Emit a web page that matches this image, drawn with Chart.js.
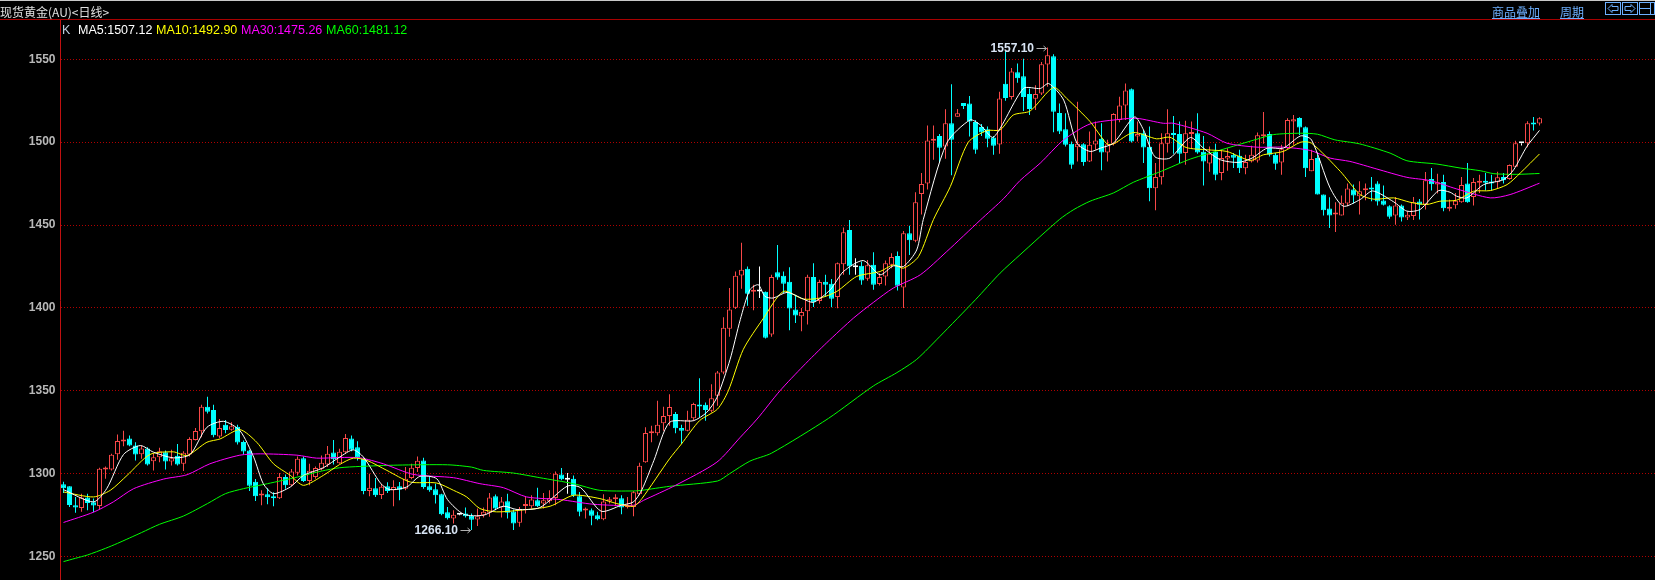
<!DOCTYPE html>
<html><head><meta charset="utf-8">
<script src="https://cdn.jsdelivr.net/npm/chart.js@4"></script>
<style>
html,body{margin:0;padding:0;background:#000;width:1655px;height:580px;overflow:hidden}
#wrap{position:relative;width:1655px;height:580px}
canvas{position:absolute;left:0;top:0}
.t{position:absolute;white-space:nowrap;line-height:14px}
.cjk{font:12px "Noto Sans CJK SC",sans-serif}
.leg{font:12.5px "Liberation Sans",sans-serif;top:23px}
.link{color:#6db0ff;text-decoration:underline;top:3px}
#topline{position:absolute;left:0;top:0;width:1655px;height:1px;background:#c8c8c8}
#redline{position:absolute;left:0;top:19px;width:1655px;height:1px;background:#a80000}
svg{position:absolute;top:2px}
</style></head><body>
<div id="wrap">
<canvas id="c" width="1655" height="580"></canvas>
<div id="topline"></div><div id="redline"></div>
<div class="t cjk" style="left:0;top:3px;color:#e0e0e0">现货黄金(AU)&lt;日线&gt;</div>
<div class="t leg" style="left:62px;color:#c0d0e0">K</div>
<div class="t leg" style="left:78px;color:#ffffff">MA5:1507.12</div>
<div class="t leg" style="left:156px;color:#ffff00">MA10:1492.90</div>
<div class="t leg" style="left:241px;color:#ff00ff">MA30:1475.26</div>
<div class="t leg" style="left:326px;color:#00ff00">MA60:1481.12</div>
<div class="t cjk link" style="left:1492px">商品叠加</div>
<div class="t cjk link" style="left:1560px">周期</div>
<svg style="left:1605px" width="17" height="14"><rect x=".5" y=".5" width="15" height="12" fill="none" stroke="#6db0ff"/><path d="M3 6.5l4-4v2h6v4H7v2z" fill="none" stroke="#6db0ff"/></svg>
<svg style="left:1622px" width="17" height="14"><rect x=".5" y=".5" width="15" height="12" fill="none" stroke="#6db0ff"/><path d="M13 6.5l-4-4v2H3v4h6v2z" fill="none" stroke="#6db0ff"/></svg>
<svg style="left:1639px" width="16" height="14"><rect x=".5" y=".5" width="15" height="12" fill="none" stroke="#6db0ff"/><path d="M1 6.5h10M11.5 1v12" fill="none" stroke="#6db0ff"/></svg>
</div>
<script>
const yTicks=[1250,1300,1350,1400,1450,1500,1550];
const open=[
1293.6,1292.4,1281,1279.4,1285.6,1282.8,1280.6,1302.6,1302.6,1311.8,
1319.5,1321.2,1317,1311.8,1315.2,1307.6,1310,1313,1307.4,1310.8,
1306,1311.6,1320.4,1325.6,1340.4,1338.4,1322.4,1329.6,1326.6,1328.4,
1319.2,1314,1295.2,1286.8,1287.6,1286.4,1285.2,1298,1293,1300.6,
1309.4,1295.6,1298,1303,1305.6,1312.8,1306.4,1313,1321.2,1316,
1309,1289.6,1291.2,1287.2,1292.4,1290,1292.4,1291,1297.4,1303.4,
1308,1292.4,1290.6,1287.6,1276.8,1273,1275.2,1276,1274.6,1272.4,
1275,1276.4,1286.4,1279.6,1283.4,1277.2,1270.4,1280.6,1280.4,1284,
1282,1283.4,1285.4,1299.6,1296.4,1297,1286.4,1277.8,1278,1275,
1272.6,1283.2,1284.6,1285.2,1279.8,1280,1287.6,1307,1324.4,1324.4,
1330.4,1334.8,1336,1327.6,1326,1333.4,1340.8,1341.6,1338,1347,
1361,1387.4,1400.2,1419.6,1423.6,1409.8,1410,1409.8,1384,1421.6,
1419.4,1415.8,1399,1395,1398,1418.6,1404.2,1415.8,1414.6,1406.6,
1426.4,1447,1424.6,1425.4,1417.6,1426,1414.4,1419,1426,1431.4,
1412.4,1445,1440.6,1468.8,1475,1500.8,1503.8,1497.4,1511.4,1515.4,
1523.6,1523.4,1512.2,1509.2,1507.8,1502.8,1498.6,1535.2,1527.2,1542.2,
1539.8,1529,1526.2,1529.4,1546.8,1551.8,1517.6,1507.8,1499,1497,
1498.8,1488.4,1498.6,1502,1493.8,1499,1513.4,1522.2,1532,1503.4,
1505.4,1497.2,1472.2,1478.8,1499,1505.4,1505,1493.4,1505,1505.4,
1494.2,1487.2,1494.2,1481.4,1490.2,1492.4,1491.8,1484.2,1488.4,1489,
1503.6,1505,1492.4,1487.8,1496.4,1512.4,1514.6,1509,1482.4,1490.4,
1468.4,1460,1456.4,1455.8,1463,1471.4,1467.4,1471,1472.4,1475,
1464.8,1461.4,1455.8,1461.8,1454.6,1455.4,1464.2,1462.4,1477.8,1474.4,
1476,1459.8,1462,1463.8,1475,1467,1475.6,1476,1476,1475.8,
1479,1477.8,1485.2,1499.4,1499.4,1510.8,1511.2];
const close=[
1291.2,1281.2,1279.6,1285.6,1282.4,1280.8,1303,1303.2,1311.4,1319.8,
1320.3,1317,1311.6,1315.2,1305.6,1310,1313.6,1307.4,1309.4,1305.6,
1312.6,1321,1325.8,1340.4,1337.4,1323.2,1327.6,1326.4,1328.6,1318.8,
1313.4,1292.8,1286.4,1288,1285.8,1285.2,1298,1293,1301.4,1309,
1295.6,1301.8,1303.4,1306.6,1312,1308.8,1313.2,1321.6,1314.4,1309.6,
1289.6,1291.6,1287,1292.2,1289.6,1292,1290.4,1297,1303.6,1307.8,
1292,1290,1287,1275.6,1273.2,1275.2,1275.2,1274.4,1272.2,1274.4,
1277,1285.6,1279,1283.2,1276.4,1270,1278.8,1280.8,1284.4,1280.4,
1284,1285.4,1300,1296.6,1296.4,1287,1277,1278.2,1274.6,1272.6,
1283.2,1284.6,1285,1279.6,1280.2,1288.8,1304.8,1324.6,1324.8,1329.6,
1334.8,1340.2,1327.4,1326,1332.6,1342,1340.6,1338.4,1345.6,1361,
1388,1399,1419.4,1423,1408.6,1410,1410,1382,1418.6,1418.4,
1414.6,1399.6,1395.4,1397.6,1418.8,1403.4,1415.6,1414,1405.6,1427,
1445.6,1425,1424.6,1416.6,1425.8,1414,1418.6,1427,1430.8,1413.4,
1445,1440.8,1463.8,1474.8,1501,1501.2,1496.6,1511.4,1501.4,1517.4,
1521.8,1512.4,1495.4,1505.8,1502,1497.8,1526.4,1526.6,1542.6,1538.6,
1527.2,1520,1529,1547,1552.4,1518.4,1506.4,1498.4,1486.4,1499,
1488,1498.4,1501,1493.8,1498.8,1517,1522.2,1531.2,1500.4,1505,
1496.8,1472.2,1479,1499.4,1505.4,1504.4,1493,1505.4,1505.4,1493.8,
1488.4,1493,1480.4,1490.4,1491.6,1490.6,1484.2,1488,1492.4,1504.2,
1504,1492.4,1487,1495.8,1513.4,1513.8,1508.8,1484.2,1489.8,1468.4,
1459,1455.8,1456.8,1463.4,1472,1467.8,1470.4,1471.4,1471.4,1464.2,
1462.2,1455,1461.8,1454.6,1456.2,1463.8,1462.2,1477,1474.6,1475.8,
1460.2,1461,1464.6,1474.2,1463.8,1476,1476,1475.6,1475,1478.8,
1477,1486.2,1499.4,1499.4,1511.4,1510.6,1514.4];
const high=[
1295.2,1292.4,1286,1288,1288,1285,1303.6,1304.4,1312,1323.6,
1326,1323,1319,1317,1316,1312,1315.6,1314,1314.4,1318,
1313.6,1322,1327.6,1341.6,1346.4,1341.6,1333,1332.4,1331,1329.6,
1320,1314.4,1296.8,1290,1291.2,1288.8,1300.4,1299.6,1302.8,1310.4,
1310.4,1306,1304.4,1311,1316.8,1320.4,1315,1324,1323,1319.6,
1310,1300,1297.4,1294,1294.8,1296,1295,1304,1306,1310.4,
1309.6,1298,1294,1288,1280,1278,1275.6,1279.6,1276,1279,
1279.6,1288.4,1287.4,1286,1288,1278.4,1280,1286,1287,1291.6,
1288.4,1290,1301.4,1303.4,1300.4,1299,1289,1279.6,1279,1277,
1287.6,1286,1287.6,1287,1286,1289.6,1306.6,1328,1329,1344,
1340.4,1348,1337.2,1329.6,1338,1342.8,1357.6,1343,1354,1362,
1394.4,1412,1422,1439.4,1425,1414,1425,1410,1420,1438,
1422,1424.6,1408,1400,1420,1427,1417,1420,1417.4,1427.4,
1448.6,1453,1430,1428,1429,1433.6,1421,1428.6,1433,1434,
1446.4,1449.6,1469.8,1481.4,1510,1510,1505,1519.8,1535,1520,
1523.6,1527.8,1513.4,1511,1509.4,1503.8,1530.4,1555.4,1544.8,1547.4,
1550.4,1532.4,1534.4,1548.4,1557.1,1553,1523.4,1517.4,1500.4,1524.4,
1499.4,1506.4,1512.4,1511.4,1501.4,1517.4,1527.4,1535.4,1532.4,1512.4,
1507.4,1509.4,1487.4,1505.4,1519.8,1515.8,1512.4,1513,1512.4,1517.4,
1503.8,1497.4,1499,1495.4,1496.4,1493.4,1495.4,1492.4,1497.8,1505.8,
1518.2,1506.4,1493.4,1498.4,1514.4,1516.4,1515,1509.4,1495.4,1492.4,
1468.4,1466.8,1463.8,1467.8,1475,1474.4,1476.4,1475,1479,1476.4,
1473.8,1462,1467,1462.4,1458.2,1467,1465.8,1482,1484.4,1481,
1480.4,1465.4,1469.4,1479,1487.4,1478.4,1480.4,1481.4,1480.4,1482.2,
1481.4,1486.6,1500.8,1499.4,1512.6,1515.2,1515];
const low=[
1288.4,1280,1276.4,1277,1278,1276.8,1278.4,1297,1302,1308.4,
1316.6,1316.6,1308,1309,1305,1302,1307,1302.6,1305,1305,
1301.6,1310.4,1320,1322,1336.4,1322,1321.6,1324.4,1326,1317.6,
1311.6,1289.6,1283.6,1281,1281.6,1280.4,1284.8,1291,1292.4,1299,
1295,1293,1297,1302,1304,1305.6,1306,1312,1313.6,1308,
1287.6,1286.4,1286,1284.8,1288.4,1280.4,1284,1290,1296.6,1301,
1291,1289.2,1282,1275,1272.4,1270,1275,1273.6,1266.1,1268.4,
1273.6,1274,1278,1273.6,1273,1266,1268,1276,1279,1280,
1279,1282,1281,1296,1288,1286,1274.4,1273,1269,1272,
1272,1282,1280.4,1275.6,1279,1274.4,1287,1306.6,1319,1323,
1326,1329,1324.4,1318,1325.6,1332,1334,1332,1337,1341,
1360,1382.6,1399.4,1411.6,1401.4,1398.6,1406,1381.6,1382.6,1417,
1409,1386.6,1391,1386,1390,1400.6,1402.6,1406.6,1400.4,1399.8,
1420,1420,1420,1414,1416.4,1411,1413.6,1413.6,1424,1410.6,
1400,1432,1439.6,1456.4,1471.4,1489.4,1488,1490,1480,1515.4,
1520,1503.4,1493,1503.8,1497,1492.4,1493,1525,1525.8,1535.8,
1518.8,1516.4,1519.4,1528.4,1533.4,1506,1505,1497.4,1484,1488.4,
1485.8,1488,1495.4,1483,1488.4,1498,1512,1513.4,1499.8,1500.4,
1487.4,1464.4,1459,1474.4,1493.8,1493,1487.4,1486.4,1496.4,1493,
1473.8,1482.2,1477,1477,1482.8,1484.4,1481.4,1480.6,1487.8,1487.8,
1499,1491.4,1483.4,1480.4,1495.8,1498.4,1504.4,1479,1482.4,1468.4,
1455.8,1448.2,1445.8,1455.8,1461.4,1463,1456.4,1465,1464.4,1461.8,
1461.8,1453.8,1450.2,1452.2,1453,1453,1453.4,1459.4,1470.8,1469,
1458.4,1458.4,1459.8,1463.4,1463.4,1461.8,1469.4,1470.8,1470.8,1472.4,
1475,1477.4,1485,1498,1497,1507,1510];

const ma60X=[0,2,4,7,9,13,16,20,24,27,30,34,39,43,46,49.4,55.6,64,68,70,75,79.4,85,89.4,95,96.4,101,109,111,114.4,118,127.5,135,138.9,142.2,146,152,156.1,159.4,166,168.4,171.1,175,178.3,183,187.8,193.9,198.9,201.7,206.2,209,211.9,216,221.1,223.9,228.9,232.8,236.1,238.4,242.2,246];
const ma60Y=[1247,1249,1251,1255,1258,1264.5,1269.5,1274.5,1282,1288,1291,1294,1298,1301.6,1303.6,1304.4,1305.2,1305.4,1304,1302,1300.4,1297.6,1294,1290,1289.6,1290,1292.4,1295.6,1300,1307.6,1312.4,1333.4,1353,1361,1369,1382.6,1405,1421,1432,1453.4,1459.4,1464.4,1469.4,1475.8,1482.5,1489.8,1496.4,1501.8,1504.6,1505.4,1504.8,1501.4,1499,1493.4,1488.8,1486.8,1484.4,1482.8,1481,1480.6,1481.12];
const ma30X=[0,5,8.3,11.7,16.7,20.6,24.4,29.4,32.8,38.9,42.2,46.1,49.4,53.3,58.3,65,69.4,73.3,77.2,82.8,88.3,95,96.7,102,108.9,112.8,115.6,119.4,123.3,127.2,131.7,135,138.3,142.8,147.2,152.8,156.7,159.4,162.8,166.7,171.1,176.1,178.9,183.3,185,190.6,193.9,198.9,203.3,207.8,211.1,214.4,218.9,223.9,227.8,232.2,237.8,241.1,246];
const ma30Y=[1270.6,1276.8,1283,1291,1296.8,1299.4,1306,1311.2,1312,1311.2,1309.4,1309.8,1309.6,1306,1299.6,1297.6,1294,1291.6,1286,1284.4,1281.6,1281,1284,1293,1307,1322,1333,1350,1365,1379,1394,1403.4,1412,1420,1434,1453,1466,1476.8,1487.4,1501.4,1511,1513.8,1514.4,1511.4,1511.4,1505.4,1499.4,1497,1497,1495,1490.4,1488.4,1483.8,1478.8,1476.8,1471.8,1466.4,1468.4,1475.26];
const ma10X=[0,5,7.8,10.6,14.4,18.3,20.6,23.9,26.1,29.4,32.2,35,37.8,40,43.3,46,48.3,50.6,53.9,57.8,62.2,65,67.2,69.4,72.2,76.1,81.1,85,89.4,92.2,95,96.4,101,103,106,109,110.8,113.3,116.7,120,123.3,126.1,128.9,132.2,136.1,138.3,140,142.5,145,147.8,150.8,153.9,156.1,158.3,161.1,165,167.2,171.1,173.9,175,178.3,182.2,184.4,187.1,190.6,193.9,197.8,200,203.3,206.2,208,212.8,216.1,218.4,221.7,224.4,227.2,229.4,232.2,235,237.8,240.6,242.8,246];
const ma10Y=[1289,1286,1290,1299,1311.6,1313.2,1311,1319,1321,1326.6,1319,1306,1299,1293,1299,1305.5,1309.4,1308,1302,1295,1294.4,1290,1286,1279,1277,1278,1280.4,1287,1285,1282,1280.4,1285,1309,1318,1332,1339,1350,1375,1394,1410,1405.4,1406,1410,1419,1422,1426,1424,1431,1453.4,1473.2,1500,1507,1507.4,1516.4,1518.8,1533,1526.4,1512.4,1499,1499,1505.8,1502,1503,1496.8,1495.4,1494.4,1489,1492.4,1494.4,1500,1499.4,1482.4,1468.4,1465.6,1466.4,1463.8,1462.4,1464.4,1465,1470.4,1470.8,1474.4,1481.4,1492.9];
const ma5X=[0,5,7.2,10,12.8,15,18.3,21.1,23.9,26.7,29.4,31.7,33.3,35,37.8,40,43.3,46,48.3,50,52.9,54.4,57.2,59.4,62.2,64,66.7,70,73.3,75.6,79.4,84,86.2,89.6,93,95,96.4,98.4,101,105,107.2,108.9,111.1,112.8,114.4,115.8,116.9,118.3,120.6,123.3,125,127.8,130,133.3,136.1,138.3,140,142.2,143.3,147.2,151.1,152.8,155,160,162.8,164.2,166.7,168.9,171.1,172.8,175,178.5,180,181.9,184.4,187.8,190,192.8,195.8,198.1,200.6,203.3,206.2,208,211.1,213.3,216.1,218.2,221.7,223.9,226.1,229.2,231.1,232.2,233.9,236.7,240,241.7,243.9,246];
const ma5Y=[1290.4,1283,1291,1311.6,1317,1313,1309.6,1311.6,1328,1331.6,1326,1310,1294,1288,1292,1299,1303.6,1310,1314.4,1310,1294,1290.4,1292,1298.4,1297,1284.4,1275.6,1275,1280.4,1278.4,1279.6,1292.6,1291.6,1277.4,1281,1283,1290.4,1308,1331,1332,1337,1346,1369,1393,1411,1414,1407,1406,1409.4,1405.4,1403.4,1411,1422,1428.6,1420,1425.4,1425,1435,1453.4,1499.4,1513.4,1510.4,1503,1532.4,1532.4,1535.4,1525.4,1499.4,1494.4,1496.4,1499.4,1515.2,1507.4,1491.2,1490.4,1502.8,1496.4,1489.4,1487.8,1490.4,1496.4,1496.4,1503.8,1501.4,1472.4,1461.4,1465.4,1470.6,1464,1458.4,1459.4,1470.8,1469.8,1467.4,1466.4,1474.4,1477.4,1483.4,1497.4,1507.12];

const markHigh={index:164,value:1557.1,label:"1557.10"};
const markLow={index:68,value:1266.1,label:"1266.10"};

const RED="#f84848",CYAN="#00ffff",WHITE="#ffffff";
const colorOf=i=>close[i]===open[i]?WHITE:(close[i]>open[i]?RED:CYAN);
const pts=(X,Y)=>X.map((x,k)=>({x,y:Y[k]}));
const idx=open.map((_,i)=>i);
const line=(label,X,Y,color,order)=>({type:"line",label,data:pts(X,Y),borderColor:color,borderWidth:1,pointRadius:0,tension:0.25,order,parsing:{xAxisKey:"x",yAxisKey:"y"}});

const annotate={id:"annotate",afterDatasetsDraw(ch){
  const {ctx,scales:{x,y}}=ch;
  for(const m of [markHigh,markLow]){
    const px=x.getPixelForValue(m.index),py=Math.round(y.getPixelForValue(m.value))+0.5;
    ctx.save();
    ctx.font='bold 12px "Liberation Sans",sans-serif';
    ctx.fillStyle="#d8e4f4";ctx.textAlign="right";ctx.textBaseline="middle";
    ctx.fillText(m.label,px-13.5,py);
    ctx.strokeStyle="#b0b0b0";ctx.lineWidth=1;ctx.beginPath();
    ctx.moveTo(px-11,py);ctx.lineTo(px-1,py);ctx.moveTo(px-4,py-2.5);ctx.lineTo(px-1,py);ctx.lineTo(px-4,py+2.5);ctx.stroke();
    ctx.restore();
  }
}};

new Chart(document.getElementById("c"),{
  type:"bar",
  plugins:[annotate],
  data:{datasets:[
    line("MA5",ma5X,ma5Y,"#ffffff",1),
    line("MA10",ma10X,ma10Y,"#ffff00",2),
    line("MA30",ma30X,ma30Y,"#ff00ff",3),
    line("MA60",ma60X,ma60Y,"#00ff00",4),
    {label:"body",order:5,data:idx.map(i=>({x:i,y:[open[i],close[i]]})),grouped:false,barThickness:5,maxBarThickness:5,minBarLength:2,inflateAmount:0,
     backgroundColor:idx.map(i=>close[i]>open[i]?"#000000":colorOf(i)),borderColor:idx.map(colorOf),borderWidth:1,borderSkipped:false},
    {label:"wick",order:6,data:idx.map(i=>({x:i,y:[low[i],high[i]]})),grouped:false,barThickness:1,maxBarThickness:1,inflateAmount:0,
     backgroundColor:idx.map(colorOf),borderWidth:0}
  ]},
  options:{
    responsive:false,animation:false,devicePixelRatio:1,
    layout:{padding:{top:20,left:0,right:0,bottom:0}},
    plugins:{legend:{display:false},title:{display:false},tooltip:{enabled:false}},
    scales:{
      x:{type:"linear",display:false,min:-0.5,max:265.25,offset:false,stacked:false,grid:{display:false}},
      y:{min:1235.9,max:1573.7,
        afterBuildTicks(s){s.ticks=yTicks.map(value=>({value}));},
        afterFit(s){s.width=60.5;s.paddingTop=0;s.paddingBottom=0;},
        ticks:{color:"#b8b8b8",font:{family:"Liberation Sans",size:12,weight:"bold"},padding:5,autoSkip:false,maxRotation:0,callback:v=>String(v)},
        grid:{color:"#b00000",lineWidth:1,drawTicks:false},
        border:{display:true,color:"#c01010",width:1,dash:[1,2]}
      }
    }
  }
});
</script>
</body></html>
